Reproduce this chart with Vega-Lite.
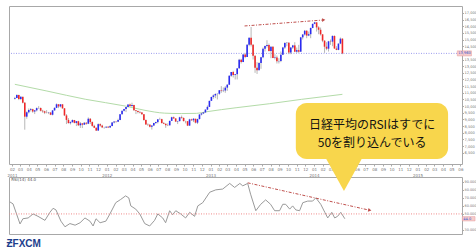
{
"$schema":"https://vega.github.io/schema/vega-lite/v6.json",
"background":"white",
"padding":{"left":6,"top":5,"right":0,"bottom":0},
"bounds":"flush",
"spacing":13,
"config":{"view":{"stroke":"#a8a8a8","fill":"white"},"font":"DejaVu Sans"},
"title":{"text":"ƵFXCM","orient":"bottom","anchor":"start","fontSize":10,"fontWeight":"bold","font":"Liberation Sans","color":"#1d3e8c","offset":4},
"datasets":{
"candles":[
{"d":"2011-02-11","o":10543,"h":10700,"l":10500,"c":10605},
{"d":"2011-02-18","o":10605,"h":10890,"l":10600,"c":10842},
{"d":"2011-02-25","o":10842,"h":10860,"l":10450,"c":10527},
{"d":"2011-03-04","o":10527,"h":10740,"l":10450,"c":10694},
{"d":"2011-03-11","o":10694,"h":10720,"l":10200,"c":10254},
{"d":"2011-03-18","o":10254,"h":10300,"l":8227,"c":9206},
{"d":"2011-03-25","o":9206,"h":9600,"l":9050,"c":9536},
{"d":"2011-04-01","o":9536,"h":9820,"l":9450,"c":9708},
{"d":"2011-04-08","o":9708,"h":9850,"l":9600,"c":9768},
{"d":"2011-04-15","o":9768,"h":9800,"l":9500,"c":9591},
{"d":"2011-04-22","o":9591,"h":9700,"l":9400,"c":9682},
{"d":"2011-04-29","o":9682,"h":9900,"l":9600,"c":9849},
{"d":"2011-05-06","o":9849,"h":10000,"l":9800,"c":9859},
{"d":"2011-05-13","o":9859,"h":9900,"l":9600,"c":9648},
{"d":"2011-05-20","o":9648,"h":9720,"l":9500,"c":9607},
{"d":"2011-05-27","o":9607,"h":9650,"l":9400,"c":9504},
{"d":"2011-06-03","o":9504,"h":9700,"l":9450,"c":9492},
{"d":"2011-06-10","o":9492,"h":9560,"l":9400,"c":9514},
{"d":"2011-06-17","o":9514,"h":9560,"l":9320,"c":9351},
{"d":"2011-06-24","o":9351,"h":9700,"l":9300,"c":9678},
{"d":"2011-07-01","o":9678,"h":9900,"l":9650,"c":9868},
{"d":"2011-07-08","o":9868,"h":10200,"l":9850,"c":10137},
{"d":"2011-07-15","o":10137,"h":10140,"l":9850,"c":9974},
{"d":"2011-07-22","o":9974,"h":10150,"l":9900,"c":10132},
{"d":"2011-07-29","o":10132,"h":10150,"l":9800,"c":9833},
{"d":"2011-08-05","o":9833,"h":9850,"l":9250,"c":9299},
{"d":"2011-08-12","o":9299,"h":9400,"l":8650,"c":8963},
{"d":"2011-08-19","o":8963,"h":9100,"l":8700,"c":8719},
{"d":"2011-08-26","o":8719,"h":8850,"l":8620,"c":8797},
{"d":"2011-09-02","o":8797,"h":9000,"l":8750,"c":8950},
{"d":"2011-09-09","o":8950,"h":8960,"l":8700,"c":8737},
{"d":"2011-09-16","o":8737,"h":8880,"l":8500,"c":8864},
{"d":"2011-09-23","o":8864,"h":8900,"l":8500,"c":8560},
{"d":"2011-09-30","o":8560,"h":8800,"l":8360,"c":8700},
{"d":"2011-10-07","o":8700,"h":8720,"l":8350,"c":8605},
{"d":"2011-10-14","o":8605,"h":8800,"l":8580,"c":8747},
{"d":"2011-10-21","o":8747,"h":8800,"l":8600,"c":8678},
{"d":"2011-10-28","o":8678,"h":9150,"l":8650,"c":9050},
{"d":"2011-11-04","o":9050,"h":9100,"l":8650,"c":8801},
{"d":"2011-11-11","o":8801,"h":8850,"l":8450,"c":8514},
{"d":"2011-11-18","o":8514,"h":8600,"l":8350,"c":8374},
{"d":"2011-11-25","o":8374,"h":8400,"l":8135,"c":8160},
{"d":"2011-12-02","o":8160,"h":8700,"l":8150,"c":8643},
{"d":"2011-12-09","o":8643,"h":8700,"l":8450,"c":8536},
{"d":"2011-12-16","o":8536,"h":8600,"l":8350,"c":8401},
{"d":"2011-12-23","o":8401,"h":8450,"l":8300,"c":8395},
{"d":"2011-12-30","o":8395,"h":8480,"l":8350,"c":8455},
{"d":"2012-01-06","o":8455,"h":8500,"l":8350,"c":8390},
{"d":"2012-01-13","o":8390,"h":8560,"l":8370,"c":8500},
{"d":"2012-01-20","o":8500,"h":8800,"l":8480,"c":8766},
{"d":"2012-01-27","o":8766,"h":8850,"l":8700,"c":8841},
{"d":"2012-02-03","o":8841,"h":8880,"l":8750,"c":8831},
{"d":"2012-02-10","o":8831,"h":9050,"l":8800,"c":8947},
{"d":"2012-02-17","o":8947,"h":9400,"l":8940,"c":9384},
{"d":"2012-02-24","o":9384,"h":9650,"l":9370,"c":9647},
{"d":"2012-03-02","o":9647,"h":9800,"l":9600,"c":9777},
{"d":"2012-03-09","o":9777,"h":9930,"l":9550,"c":9929},
{"d":"2012-03-16","o":9929,"h":10130,"l":9900,"c":10129},
{"d":"2012-03-23","o":10129,"h":10190,"l":9950,"c":10011},
{"d":"2012-03-30","o":10011,"h":10255,"l":9950,"c":10083},
{"d":"2012-04-06","o":10083,"h":10100,"l":9650,"c":9688},
{"d":"2012-04-13","o":9688,"h":9700,"l":9400,"c":9637},
{"d":"2012-04-20","o":9637,"h":9670,"l":9450,"c":9561},
{"d":"2012-04-27","o":9561,"h":9650,"l":9450,"c":9520},
{"d":"2012-05-04","o":9520,"h":9560,"l":9350,"c":9380},
{"d":"2012-05-11","o":9380,"h":9400,"l":8900,"c":8953},
{"d":"2012-05-18","o":8953,"h":9000,"l":8600,"c":8611},
{"d":"2012-05-25","o":8611,"h":8700,"l":8500,"c":8593},
{"d":"2012-06-01","o":8593,"h":8650,"l":8400,"c":8440},
{"d":"2012-06-08","o":8440,"h":8550,"l":8238,"c":8536},
{"d":"2012-06-15","o":8536,"h":8750,"l":8500,"c":8721},
{"d":"2012-06-22","o":8721,"h":8830,"l":8650,"c":8798},
{"d":"2012-06-29","o":8798,"h":9020,"l":8700,"c":9006},
{"d":"2012-07-06","o":9006,"h":9130,"l":8980,"c":9020},
{"d":"2012-07-13","o":9020,"h":9050,"l":8700,"c":8724},
{"d":"2012-07-20","o":8724,"h":8800,"l":8650,"c":8669},
{"d":"2012-07-27","o":8669,"h":8700,"l":8365,"c":8566},
{"d":"2012-08-03","o":8566,"h":8700,"l":8500,"c":8555},
{"d":"2012-08-10","o":8555,"h":8900,"l":8550,"c":8891},
{"d":"2012-08-17","o":8891,"h":9200,"l":8880,"c":9162},
{"d":"2012-08-24","o":9162,"h":9220,"l":9050,"c":9070},
{"d":"2012-08-31","o":9070,"h":9100,"l":8800,"c":8839},
{"d":"2012-09-07","o":8839,"h":8900,"l":8650,"c":8871},
{"d":"2012-09-14","o":8871,"h":9200,"l":8850,"c":9159},
{"d":"2012-09-21","o":9159,"h":9290,"l":9050,"c":9110},
{"d":"2012-09-28","o":9110,"h":9150,"l":8850,"c":8870},
{"d":"2012-10-05","o":8870,"h":8900,"l":8700,"c":8863},
{"d":"2012-10-12","o":8863,"h":8880,"l":8500,"c":8534},
{"d":"2012-10-19","o":8534,"h":9050,"l":8520,"c":9002},
{"d":"2012-10-26","o":9002,"h":9050,"l":8900,"c":8933},
{"d":"2012-11-02","o":8933,"h":9100,"l":8800,"c":9051},
{"d":"2012-11-09","o":9051,"h":9050,"l":8700,"c":8757},
{"d":"2012-11-16","o":8757,"h":9050,"l":8650,"c":9024},
{"d":"2012-11-23","o":9024,"h":9400,"l":9000,"c":9366},
{"d":"2012-11-30","o":9366,"h":9500,"l":9300,"c":9446},
{"d":"2012-12-07","o":9446,"h":9550,"l":9400,"c":9527},
{"d":"2012-12-14","o":9527,"h":9750,"l":9500,"c":9737},
{"d":"2012-12-21","o":9737,"h":10050,"l":9700,"c":9940},
{"d":"2012-12-28","o":9940,"h":10400,"l":9930,"c":10395},
{"d":"2013-01-04","o":10395,"h":10700,"l":10390,"c":10688},
{"d":"2013-01-11","o":10688,"h":10880,"l":10550,"c":10801},
{"d":"2013-01-18","o":10801,"h":10950,"l":10600,"c":10913},
{"d":"2013-01-25","o":10913,"h":10950,"l":10500,"c":10926},
{"d":"2013-02-01","o":10926,"h":11200,"l":10850,"c":11191},
{"d":"2013-02-08","o":11191,"h":11500,"l":11000,"c":11153},
{"d":"2013-02-15","o":11153,"h":11400,"l":11050,"c":11173},
{"d":"2013-02-22","o":11173,"h":11500,"l":11000,"c":11385},
{"d":"2013-03-01","o":11385,"h":11650,"l":11150,"c":11606},
{"d":"2013-03-08","o":11606,"h":12300,"l":11600,"c":12283},
{"d":"2013-03-15","o":12283,"h":12560,"l":12200,"c":12560},
{"d":"2013-03-22","o":12560,"h":12650,"l":12150,"c":12338},
{"d":"2013-03-29","o":12338,"h":12400,"l":12000,"c":12398},
{"d":"2013-04-05","o":12398,"h":12850,"l":12000,"c":12834},
{"d":"2013-04-12","o":12834,"h":13550,"l":12800,"c":13485},
{"d":"2013-04-19","o":13485,"h":13550,"l":13200,"c":13317},
{"d":"2013-04-26","o":13317,"h":13900,"l":13300,"c":13884},
{"d":"2013-05-03","o":13884,"h":14000,"l":13600,"c":13694},
{"d":"2013-05-10","o":13694,"h":14650,"l":13690,"c":14608},
{"d":"2013-05-17","o":14608,"h":15150,"l":14500,"c":15138},
{"d":"2013-05-24","o":15138,"h":15942,"l":14483,"c":14612},
{"d":"2013-05-31","o":14612,"h":14650,"l":13500,"c":13774},
{"d":"2013-06-07","o":13774,"h":13800,"l":12500,"c":12877},
{"d":"2013-06-14","o":12877,"h":13300,"l":12415,"c":12686},
{"d":"2013-06-21","o":12686,"h":13300,"l":12700,"c":13230},
{"d":"2013-06-28","o":13230,"h":13700,"l":12800,"c":13677},
{"d":"2013-07-05","o":13677,"h":14400,"l":13600,"c":14310},
{"d":"2013-07-12","o":14310,"h":14550,"l":14100,"c":14506},
{"d":"2013-07-19","o":14506,"h":14950,"l":14400,"c":14589},
{"d":"2013-07-26","o":14589,"h":14700,"l":14100,"c":14130},
{"d":"2013-08-02","o":14130,"h":14500,"l":13600,"c":14466},
{"d":"2013-08-09","o":14466,"h":14500,"l":13600,"c":13615},
{"d":"2013-08-16","o":13615,"h":13900,"l":13500,"c":13650},
{"d":"2013-08-23","o":13650,"h":13800,"l":13200,"c":13360},
{"d":"2013-08-30","o":13360,"h":13600,"l":13200,"c":13389},
{"d":"2013-09-06","o":13389,"h":14100,"l":13300,"c":13861},
{"d":"2013-09-13","o":13861,"h":14450,"l":13850,"c":14404},
{"d":"2013-09-20","o":14404,"h":14800,"l":14300,"c":14742},
{"d":"2013-09-27","o":14742,"h":14800,"l":14500,"c":14760},
{"d":"2013-10-04","o":14760,"h":14800,"l":13900,"c":14024},
{"d":"2013-10-11","o":14024,"h":14450,"l":13900,"c":14404},
{"d":"2013-10-18","o":14404,"h":14600,"l":14300,"c":14561},
{"d":"2013-10-25","o":14561,"h":14800,"l":14050,"c":14088},
{"d":"2013-11-01","o":14088,"h":14400,"l":14000,"c":14201},
{"d":"2013-11-08","o":14201,"h":14600,"l":14000,"c":14086},
{"d":"2013-11-15","o":14086,"h":15200,"l":14080,"c":15165},
{"d":"2013-11-22","o":15165,"h":15400,"l":15000,"c":15381},
{"d":"2013-11-29","o":15381,"h":15720,"l":15300,"c":15661},
{"d":"2013-12-06","o":15661,"h":15700,"l":15100,"c":15299},
{"d":"2013-12-13","o":15299,"h":15600,"l":15250,"c":15403},
{"d":"2013-12-20","o":15403,"h":15900,"l":15100,"c":15870},
{"d":"2013-12-27","o":15870,"h":16200,"l":15850,"c":16178},
{"d":"2014-01-03","o":16178,"h":16320,"l":16150,"c":16291},
{"d":"2014-01-10","o":16291,"h":16300,"l":15600,"c":15912},
{"d":"2014-01-17","o":15912,"h":16000,"l":15400,"c":15734},
{"d":"2014-01-24","o":15734,"h":15900,"l":15300,"c":15391},
{"d":"2014-01-31","o":15391,"h":15400,"l":14800,"c":14914},
{"d":"2014-02-07","o":14914,"h":14950,"l":14000,"c":14462},
{"d":"2014-02-14","o":14462,"h":14800,"l":14200,"c":14313},
{"d":"2014-02-21","o":14313,"h":14900,"l":14100,"c":14865},
{"d":"2014-02-28","o":14865,"h":15000,"l":14600,"c":14841},
{"d":"2014-03-07","o":14841,"h":15300,"l":14500,"c":15274},
{"d":"2014-03-14","o":15274,"h":15300,"l":14300,"c":14327},
{"d":"2014-03-21","o":14327,"h":14500,"l":14200,"c":14224},
{"d":"2014-03-28","o":14224,"h":14700,"l":14200,"c":14696},
{"d":"2014-04-04","o":14696,"h":15150,"l":14650,"c":15063},
{"d":"2014-04-11","o":15063,"h":15100,"l":13900,"c":13960}
],
"ma":[
{"d":"2011-02-11","v":11636},{"d":"2011-06-04","v":11132},{"d":"2011-10-19","v":10508},
{"d":"2012-03-06","v":10004},{"d":"2012-05-15","v":9681},{"d":"2012-07-23","v":9470},
{"d":"2012-09-20","v":9440},{"d":"2012-11-13","v":9455},{"d":"2012-12-18","v":9576},
{"d":"2013-04-01","v":9876},{"d":"2013-07-27","v":10177},{"d":"2013-11-18","v":10508},
{"d":"2014-04-11","v":10884}
],
"parrow":[{"d":"2013-05-01","v":16020},{"d":"2014-02-04","v":16470}],
"pend":[{"d":"2014-02-04","v":16470}],
"plast":[{"d":"2015-05-21","d2":"2015-07-10","v":13960,"lo":13770,"hi":14150,"t":"13,960"}],
"rsi":[
{"d":"2011-02-11","r":65},{"d":"2011-02-22","r":62.5},{"d":"2011-03-18","r":37.5},
{"d":"2011-03-28","r":44},{"d":"2011-04-15","r":45},{"d":"2011-05-02","r":50},
{"d":"2011-05-19","r":47},{"d":"2011-06-12","r":42},{"d":"2011-06-29","r":52},
{"d":"2011-07-10","r":57},{"d":"2011-07-20","r":55},{"d":"2011-08-06","r":41},
{"d":"2011-08-20","r":34},{"d":"2011-09-06","r":38},{"d":"2011-09-24","r":36},
{"d":"2011-10-11","r":39},{"d":"2011-10-28","r":45},{"d":"2011-11-14","r":41},
{"d":"2011-11-25","r":35},{"d":"2011-12-05","r":44},{"d":"2011-12-19","r":39},
{"d":"2012-01-08","r":41},{"d":"2012-01-22","r":50},{"d":"2012-02-11","r":64},
{"d":"2012-02-28","r":68},{"d":"2012-03-16","r":72.5},{"d":"2012-03-27","r":70},
{"d":"2012-04-03","r":60},{"d":"2012-04-20","r":56},{"d":"2012-05-04","r":50},
{"d":"2012-05-21","r":38},{"d":"2012-06-07","r":35},{"d":"2012-06-24","r":42},
{"d":"2012-07-05","r":50},{"d":"2012-07-22","r":45},{"d":"2012-08-01","r":39},
{"d":"2012-08-15","r":54},{"d":"2012-08-25","r":49},{"d":"2012-09-05","r":54},
{"d":"2012-09-22","r":50},{"d":"2012-10-09","r":45},{"d":"2012-10-23","r":52},
{"d":"2012-11-09","r":47},{"d":"2012-11-20","r":60},{"d":"2012-12-07","r":64},
{"d":"2012-12-31","r":77},{"d":"2013-01-21","r":80},{"d":"2013-02-14","r":81},
{"d":"2013-03-10","r":88},{"d":"2013-03-27","r":83},{"d":"2013-04-14","r":88},
{"d":"2013-04-24","r":85},{"d":"2013-05-11","r":88},{"d":"2013-05-21","r":74.6},
{"d":"2013-06-08","r":54},{"d":"2013-06-25","r":62},{"d":"2013-07-12","r":67.5},
{"d":"2013-07-29","r":62},{"d":"2013-08-12","r":54},{"d":"2013-08-29","r":54},
{"d":"2013-09-09","r":62},{"d":"2013-09-19","r":62},{"d":"2013-10-03","r":56},
{"d":"2013-10-13","r":60},{"d":"2013-10-24","r":55},{"d":"2013-11-06","r":54},
{"d":"2013-11-17","r":64},{"d":"2013-12-04","r":66},{"d":"2013-12-21","r":66},
{"d":"2014-01-01","r":70},{"d":"2014-01-18","r":62},{"d":"2014-02-01","r":52},
{"d":"2014-02-11","r":45},{"d":"2014-02-25","r":52},{"d":"2014-03-07","r":45},
{"d":"2014-03-17","r":47},{"d":"2014-03-28","r":52},{"d":"2014-04-11","r":44}
],
"rarrow":[{"d":"2013-05-11","r":88.75},{"d":"2014-07-06","r":54.6}],
"rend":[{"d":"2014-07-06","r":54.6}],
"rlast":[{"d":"2015-05-21","d2":"2015-07-04","r":44,"lo":41.3,"hi":46.7,"t":"44.0"}],
"rlabel":[{"d":"2011-02-12","r":92,"t":"RSI(14) 44.0"}],
"box":[{"d":"2013-10-24","d2":"2015-04-02","lo":118.4,"hi":188.2}],
"pointer":[{"d":"2014-04-08","r":102.2}],
"txt":[{"d":"2014-07-14","r":160.8,"t":"日経平均のRSIはすでに"},{"d":"2014-07-14","r":138.35,"t":"50を割り込んでいる"}]
},
"vconcat":[
{
"width":453,"height":158,
"encoding":{"x":{"field":"d","type":"temporal","scale":{"type":"utc","domain":[{"year":2011,"month":2,"date":8,"utc":true},{"year":2015,"month":5,"date":20,"utc":true}]},
"axis":{"orient":"bottom","title":null,"grid":false,"domain":false,"tickCount":{"interval":"month","step":1},"labelExpr":"utcmonth(datum.value)==0 || datum.index==0 ? [utcFormat(datum.value,'%m'), utcFormat(datum.value,'%Y')] : utcFormat(datum.value,'%m')","labelFontSize":4,"labelColor":"#777","labelLineHeight":6,"labelPadding":1,"tickSize":2,"tickColor":"#aaa","labelOverlap":false,"labelBound":false,"labelFlush":false}}},
"layer":[
{"data":{"name":"ma"},"mark":{"type":"line","color":"#b3dba8","strokeWidth":1,"interpolate":"monotone"},
 "encoding":{"y":{"field":"v","type":"quantitative","title":null,"scale":{"domain":[5650,17520],"nice":false,"zero":false},
 "axis":{"orient":"right","title":null,"grid":false,"domain":false,"values":[6500,7000,7500,8000,8500,9000,9500,10000,10500,11000,11500,12000,12500,13000,13500,14500,15000,15500,16000,16500,17000],"format":",d","labelFontSize":3.6,"labelColor":"#777","tickSize":1.5,"tickColor":"#aaa","labelPadding":0.5}}}},
{"data":{"name":"plast"},"mark":{"type":"rule","color":"#9c9cee","strokeDash":[1,1.5],"strokeWidth":1},
 "encoding":{"x":null,"y":{"field":"v","type":"quantitative","title":null,"scale":{"domain":[5650,17520],"nice":false,"zero":false},
 "axis":{"orient":"right","title":null,"grid":false,"domain":false,"values":[6500,7000,7500,8000,8500,9000,9500,10000,10500,11000,11500,12000,12500,13000,13500,14500,15000,15500,16000,16500,17000],"format":",d","labelFontSize":3.6,"labelColor":"#777","tickSize":1.5,"tickColor":"#aaa","labelPadding":0.5}}}},
{"data":{"name":"candles"},"mark":{"type":"rule","color":"#a4a4a4","strokeWidth":0.8},
 "encoding":{"y":{"field":"l","type":"quantitative","title":null,"scale":{"domain":[5650,17520],"nice":false,"zero":false},
 "axis":{"orient":"right","title":null,"grid":false,"domain":false,"values":[6500,7000,7500,8000,8500,9000,9500,10000,10500,11000,11500,12000,12500,13000,13500,14500,15000,15500,16000,16500,17000],"format":",d","labelFontSize":3.6,"labelColor":"#777","tickSize":1.5,"tickColor":"#aaa","labelPadding":0.5}},"y2":{"field":"h"}}},
{"data":{"name":"candles"},"mark":{"type":"bar","size":1.6},
 "encoding":{"y":{"field":"o","type":"quantitative","title":null,"scale":{"domain":[5650,17520],"nice":false,"zero":false},
 "axis":{"orient":"right","title":null,"grid":false,"domain":false,"values":[6500,7000,7500,8000,8500,9000,9500,10000,10500,11000,11500,12000,12500,13000,13500,14500,15000,15500,16000,16500,17000],"format":",d","labelFontSize":3.6,"labelColor":"#777","tickSize":1.5,"tickColor":"#aaa","labelPadding":0.5}},"y2":{"field":"c"},
 "color":{"condition":{"test":"datum.c>=datum.o","value":"#2b2bf2"},"value":"#f02828"}}},
{"data":{"name":"parrow"},"mark":{"type":"line","color":"#c0504d","strokeWidth":1,"strokeDash":[3,1.5,1,1.5]},
 "encoding":{"y":{"field":"v","type":"quantitative","title":null,"scale":{"domain":[5650,17520],"nice":false,"zero":false},
 "axis":{"orient":"right","title":null,"grid":false,"domain":false,"values":[6500,7000,7500,8000,8500,9000,9500,10000,10500,11000,11500,12000,12500,13000,13500,14500,15000,15500,16000,16500,17000],"format":",d","labelFontSize":3.6,"labelColor":"#777","tickSize":1.5,"tickColor":"#aaa","labelPadding":0.5}}}},
{"data":{"name":"pend"},"mark":{"type":"point","shape":"triangle-right","angle":-4,"size":14,"filled":true,"color":"#c0504d","opacity":1},
 "encoding":{"y":{"field":"v","type":"quantitative","title":null,"scale":{"domain":[5650,17520],"nice":false,"zero":false},
 "axis":{"orient":"right","title":null,"grid":false,"domain":false,"values":[6500,7000,7500,8000,8500,9000,9500,10000,10500,11000,11500,12000,12500,13000,13500,14500,15000,15500,16000,16500,17000],"format":",d","labelFontSize":3.6,"labelColor":"#777","tickSize":1.5,"tickColor":"#aaa","labelPadding":0.5}}}},
{"data":{"name":"plast"},"mark":{"type":"rect","fill":"#f6cccc","stroke":"#e89a9a","strokeWidth":0.5},
 "encoding":{"x2":{"field":"d2"},"y":{"field":"lo","type":"quantitative","title":null,"scale":{"domain":[5650,17520],"nice":false,"zero":false},
 "axis":{"orient":"right","title":null,"grid":false,"domain":false,"values":[6500,7000,7500,8000,8500,9000,9500,10000,10500,11000,11500,12000,12500,13000,13500,14500,15000,15500,16000,16500,17000],"format":",d","labelFontSize":3.6,"labelColor":"#777","tickSize":1.5,"tickColor":"#aaa","labelPadding":0.5}},"y2":{"field":"hi"}}},
{"data":{"name":"plast"},"mark":{"type":"text","fontSize":3.6,"color":"#3355cc","align":"left","baseline":"middle","dx":1},
 "encoding":{"y":{"field":"v","type":"quantitative","title":null,"scale":{"domain":[5650,17520],"nice":false,"zero":false},
 "axis":{"orient":"right","title":null,"grid":false,"domain":false,"values":[6500,7000,7500,8000,8500,9000,9500,10000,10500,11000,11500,12000,12500,13000,13500,14500,15000,15500,16000,16500,17000],"format":",d","labelFontSize":3.6,"labelColor":"#777","tickSize":1.5,"tickColor":"#aaa","labelPadding":0.5}},"text":{"field":"t"}}}
]
},
{
"width":453,"height":57,
"encoding":{"x":{"field":"d","type":"temporal","scale":{"type":"utc","domain":[{"year":2011,"month":2,"date":8,"utc":true},{"year":2015,"month":5,"date":20,"utc":true}]},"axis":null}},
"layer":[
{"data":{"name":"rsi"},"mark":{"type":"line","color":"#9a9a9a","strokeWidth":1},
 "encoding":{"y":{"field":"r","type":"quantitative","title":null,"scale":{"domain":[25,96],"nice":false,"zero":false},
 "axis":{"orient":"right","title":null,"grid":false,"domain":false,"values":[30,50,60,70,80,90],"format":".3f","labelFontSize":3.4,"labelColor":"#777","tickSize":1.5,"tickColor":"#aaa","labelPadding":0.5}}}},
{"data":{"name":"rlast"},"mark":{"type":"rule","color":"#f08a8a","strokeDash":[1,1.5],"strokeWidth":1},
 "encoding":{"x":null,"y":{"datum":50,"type":"quantitative","title":null,"scale":{"domain":[25,96],"nice":false,"zero":false},
 "axis":{"orient":"right","title":null,"grid":false,"domain":false,"values":[30,50,60,70,80,90],"format":".3f","labelFontSize":3.4,"labelColor":"#777","tickSize":1.5,"tickColor":"#aaa","labelPadding":0.5}}}},
{"data":{"name":"rarrow"},"mark":{"type":"line","color":"#c0504d","strokeWidth":1,"strokeDash":[3,1.5,1,1.5]},
 "encoding":{"y":{"field":"r","type":"quantitative","title":null,"scale":{"domain":[25,96],"nice":false,"zero":false},
 "axis":{"orient":"right","title":null,"grid":false,"domain":false,"values":[30,50,60,70,80,90],"format":".3f","labelFontSize":3.4,"labelColor":"#777","tickSize":1.5,"tickColor":"#aaa","labelPadding":0.5}}}},
{"data":{"name":"rend"},"mark":{"type":"point","shape":"triangle-right","angle":12,"size":14,"filled":true,"color":"#c0504d","opacity":1},
 "encoding":{"y":{"field":"r","type":"quantitative","title":null,"scale":{"domain":[25,96],"nice":false,"zero":false},
 "axis":{"orient":"right","title":null,"grid":false,"domain":false,"values":[30,50,60,70,80,90],"format":".3f","labelFontSize":3.4,"labelColor":"#777","tickSize":1.5,"tickColor":"#aaa","labelPadding":0.5}}}},
{"data":{"name":"rlabel"},"mark":{"type":"text","fontSize":4,"color":"#555","align":"left","baseline":"middle","dx":1},
 "encoding":{"y":{"field":"r","type":"quantitative","title":null,"scale":{"domain":[25,96],"nice":false,"zero":false},
 "axis":{"orient":"right","title":null,"grid":false,"domain":false,"values":[30,50,60,70,80,90],"format":".3f","labelFontSize":3.4,"labelColor":"#777","tickSize":1.5,"tickColor":"#aaa","labelPadding":0.5}},"text":{"field":"t"}}},
{"data":{"name":"rlast"},"mark":{"type":"rect","fill":"#f6cccc","stroke":"#e89a9a","strokeWidth":0.5},
 "encoding":{"x2":{"field":"d2"},"y":{"field":"lo","type":"quantitative","title":null,"scale":{"domain":[25,96],"nice":false,"zero":false},
 "axis":{"orient":"right","title":null,"grid":false,"domain":false,"values":[30,50,60,70,80,90],"format":".3f","labelFontSize":3.4,"labelColor":"#777","tickSize":1.5,"tickColor":"#aaa","labelPadding":0.5}},"y2":{"field":"hi"}}},
{"data":{"name":"rlast"},"mark":{"type":"text","fontSize":3.6,"color":"#3355cc","align":"left","baseline":"middle","dx":1},
 "encoding":{"y":{"field":"r","type":"quantitative","title":null,"scale":{"domain":[25,96],"nice":false,"zero":false},
 "axis":{"orient":"right","title":null,"grid":false,"domain":false,"values":[30,50,60,70,80,90],"format":".3f","labelFontSize":3.4,"labelColor":"#777","tickSize":1.5,"tickColor":"#aaa","labelPadding":0.5}},"text":{"field":"t"}}},
{"data":{"name":"box"},"mark":{"type":"rect","fill":"#f8d64c","cornerRadius":11},
 "encoding":{"x2":{"field":"d2"},"y":{"field":"lo","type":"quantitative","title":null,"scale":{"domain":[25,96],"nice":false,"zero":false},
 "axis":{"orient":"right","title":null,"grid":false,"domain":false,"values":[30,50,60,70,80,90],"format":".3f","labelFontSize":3.4,"labelColor":"#777","tickSize":1.5,"tickColor":"#aaa","labelPadding":0.5}},"y2":{"field":"hi"}}},
{"data":{"name":"pointer"},"mark":{"type":"point","shape":"M-1,-0.9L1,-0.9L0,0.9Z","size":1764,"filled":true,"color":"#f8d64c","opacity":1,"strokeWidth":0},
 "encoding":{"y":{"field":"r","type":"quantitative","title":null,"scale":{"domain":[25,96],"nice":false,"zero":false},
 "axis":{"orient":"right","title":null,"grid":false,"domain":false,"values":[30,50,60,70,80,90],"format":".3f","labelFontSize":3.4,"labelColor":"#777","tickSize":1.5,"tickColor":"#aaa","labelPadding":0.5}}}},
{"data":{"name":"txt"},"mark":{"type":"text","fontSize":12,"font":"Noto Sans CJK JP","color":"#111","align":"center","baseline":"middle"},
 "encoding":{"y":{"field":"r","type":"quantitative","title":null,"scale":{"domain":[25,96],"nice":false,"zero":false},
 "axis":{"orient":"right","title":null,"grid":false,"domain":false,"values":[30,50,60,70,80,90],"format":".3f","labelFontSize":3.4,"labelColor":"#777","tickSize":1.5,"tickColor":"#aaa","labelPadding":0.5}},"text":{"field":"t"}}}
]
}
]
}
